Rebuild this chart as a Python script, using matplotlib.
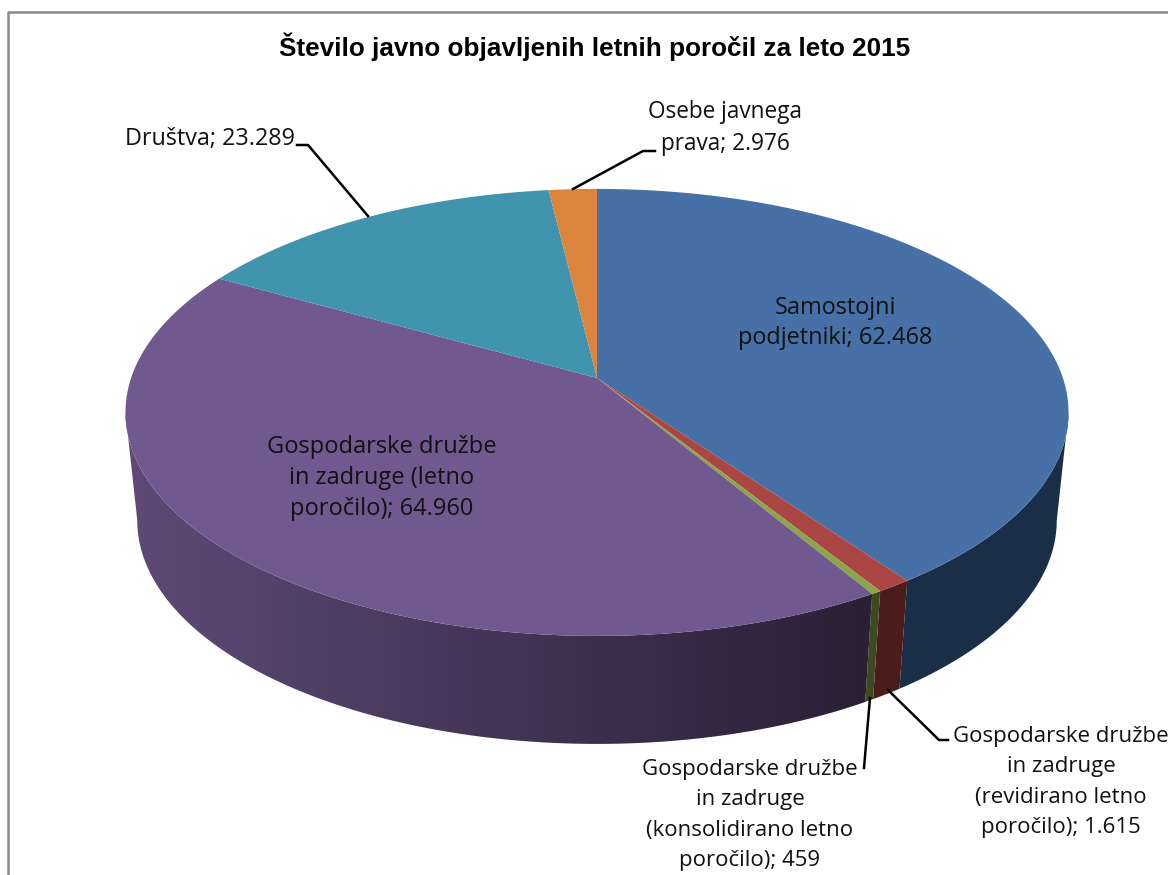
import numpy as np
import matplotlib
matplotlib.use("Agg")
import matplotlib.pyplot as plt
from matplotlib.colors import LinearSegmentedColormap
from matplotlib.patches import Polygon

labels = ["Samostojni\npodjetniki; 62.468",
          "Gospodarske družbe\nin zadruge\n(revidirano letno\nporočilo); 1.615",
          "Gospodarske družbe\nin zadruge\n(konsolidirano letno\nporočilo); 459",
          "Gospodarske družbe\nin zadruge (letno\nporočilo); 64.960",
          "Društva; 23.289",
          "Osebe javnega\nprava; 2.976"]
values = [62468, 1615, 459, 64960, 23289, 2976]
top_colors = ["#4670a6", "#aa4643", "#8aa64a", "#71588f", "#4094ae", "#db843d"]
side_colors = ["#1a2e47", "#4a1c1a", "#3c4a20", "#5f4a77", "#1a4050", "#6a3a18"]
label_pos = [(835, 323), (1061, 782), (750, 815), (382, 478), (210, 139), (725, 128)]
label_size = [16.9, 16.0, 16.0, 17.0, 16.8, 16.3]
label_gap = [1.29, 1.58, 1.58, 1.37, 1.29, 1.43]

title = "Število javno objavljenih letnih poročil za leto 2015"

# projection of the pie disc, pixels
cx, cy = 597, 378
a, b, k = 218.2, 465.9, 0.154
depth = 108
shrink = 0.975


def project(theta):
    u = np.sin(theta)
    w = -np.cos(theta)
    f = 1 / (1 - k * w)
    return cx + b * u * f, cy + a * w * f


def project_low(theta):
    x, y = project(theta)
    return cx + shrink * (x - cx), y + depth


fig = plt.figure(figsize=(11.68, 8.75), dpi=100)
ax = fig.add_axes([0, 0, 1, 1])
ax.set_xlim(0, 1168)
ax.set_ylim(875, 0)
ax.axis("off")

# chart frame
ax.plot([8, 8, 1168], [875, 11.5, 11.5], color="#8a8a8a", lw=1.8, zorder=1)

edges = np.concatenate([[0], np.cumsum(values)]) / np.sum(values) * 2 * np.pi

# sides first, from the right silhouette point round the front to the left one
side_start = np.arccos(-k)
side_end = 2 * np.pi - side_start
for i in range(len(values)):
    lo = max(edges[i], side_start)
    hi = min(edges[i + 1], side_end)
    if hi <= lo:
        continue
    t = np.linspace(lo, hi, 200)
    x, y = project(t)
    xl, yl = project_low(t)
    outline = np.column_stack([np.r_[x, xl[::-1]], np.r_[y, yl[::-1]]])
    if i == 3:
        # purple side fades to dark towards the right
        cmap = LinearSegmentedColormap.from_list("side", ["#5f4a77", "#2a1e34"])
        im = ax.imshow(np.linspace(0, 1, 256).reshape(1, -1), cmap=cmap, aspect="auto",
                       extent=(125, 885, 875, 0), zorder=2)
        patch = Polygon(outline, closed=True, transform=ax.transData, fc="none", ec="none")
        ax.add_patch(patch)
        im.set_clip_path(patch)
    else:
        ax.fill(outline[:, 0], outline[:, 1], color=side_colors[i], lw=0, zorder=2)

ax.set_xlim(0, 1168)
ax.set_ylim(875, 0)

# top of the disc
for i in range(len(values)):
    t = np.linspace(edges[i], edges[i + 1], 200)
    x, y = project(t)
    ax.fill(np.r_[cx, x], np.r_[cy, y], color=top_colors[i], lw=0, zorder=3)

ax.text(595, 47, title, ha="center", va="center", fontsize=18.8,
        fontweight="bold", family="Liberation Sans", color="black")

for text, (lx, ly), size, gap in zip(labels, label_pos, label_size, label_gap):
    ax.text(lx, ly, text, ha="center", va="center", fontsize=size,
            family="Open Sans", color="#111111", linespacing=gap, zorder=5)

# leader lines
ax.plot([297, 308, 368], [145, 145, 216], color="black", lw=1.8, zorder=4)
ax.plot([655, 643, 573], [151, 151, 189], color="black", lw=1.8, zorder=4)
ax.plot([948, 939, 888], [740, 740, 690], color="black", lw=1.8, zorder=4)
ax.plot([864, 870], [768, 698], color="black", lw=1.8, zorder=4)

fig.savefig("out.png", dpi=100, facecolor="white")
